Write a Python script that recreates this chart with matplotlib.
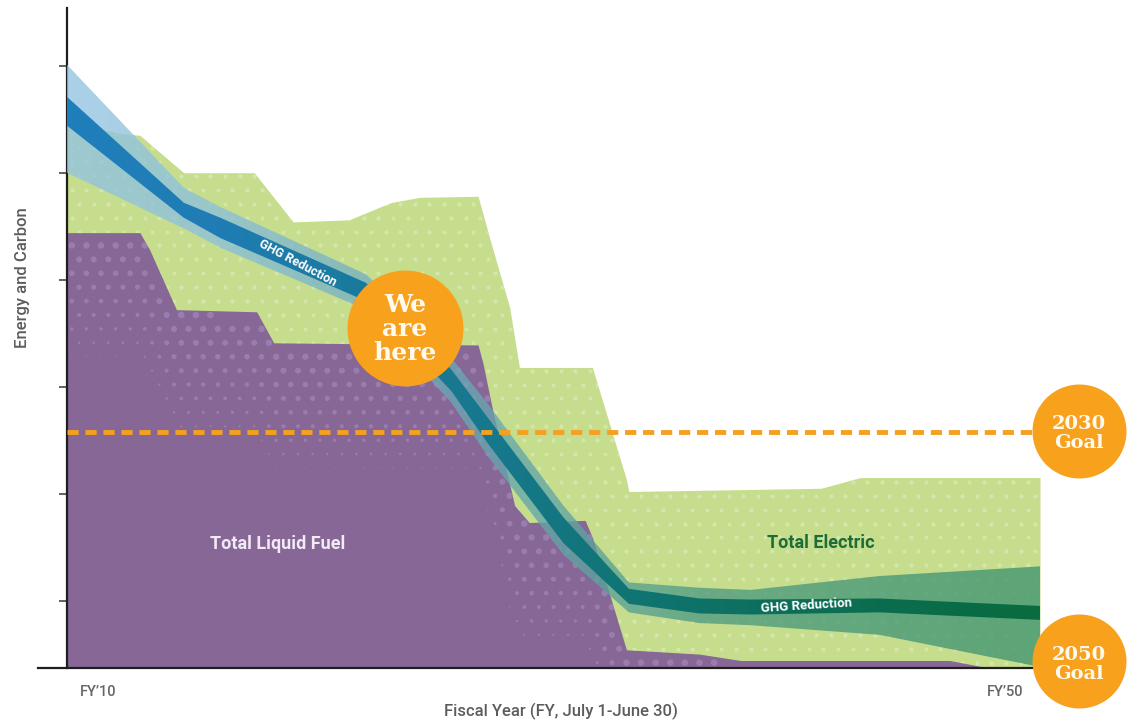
"""Energy and carbon pathway chart: liquid fuel vs electric, with GHG reduction band."""
import numpy as np
import matplotlib
matplotlib.use("Agg")
import matplotlib.pyplot as plt
from matplotlib.colors import LinearSegmentedColormap

# ── data (fiscal years, chart units) ─────────────────────────────────── #
liquid_years = [2010.0, 2013.0, 2013.4, 2014.5, 2017.8, 2018.5, 2026.9, 2027.1,
                2027.5, 2028.4, 2029.0, 2031.3, 2031.6, 2033.0, 2036.0, 2037.7,
                2046.3, 2047.9, 2050.0]
liquid_top = [40.7, 40.7, 39.1, 33.5, 33.3, 30.4, 30.2, 28.5,
              24.1, 15.2, 13.6, 13.8, 12.2, 1.7, 1.3, 0.7,
              0.7, 0.0, 0.0]

total_years = [2010.0, 2012.1, 2013.0, 2014.8, 2017.7, 2019.3, 2021.6, 2023.3,
               2024.5, 2026.9, 2027.4, 2028.2, 2028.6, 2031.6, 2033.0, 2033.1,
               2041.0, 2042.6, 2050.0]
total_top = [51.2, 50.0, 49.8, 46.3, 46.3, 41.7, 41.9, 43.5,
             44.0, 44.1, 40.0, 33.7, 28.1, 28.1, 17.6, 16.5,
             16.8, 17.8, 17.8]

ghg_years = [2010.0, 2014.8, 2016.3, 2022.3, 2025.8, 2027.3, 2030.4, 2033.1,
             2036.0, 2038.1, 2043.4, 2050.0]
ghg_outer_hi = [56.4, 44.9, 43.1, 36.8, 29.0, 24.7, 15.2, 8.0, 7.5, 7.3, 8.6, 9.5]
ghg_core_hi = [53.4, 43.5, 42.1, 36.0, 27.9, 23.4, 14.1, 7.4, 6.5, 6.4, 6.5, 5.8]
ghg_core_lo = [50.7, 42.1, 40.2, 34.3, 25.9, 21.0, 11.7, 6.0, 5.1, 5.0, 5.2, 4.5]
ghg_outer_lo = [46.3, 41.1, 39.3, 33.5, 24.8, 19.8, 10.6, 5.2, 4.2, 4.0, 3.1, 0.1]

goal_2030_level = 22.1
here_year, here_level = 2023.9, 31.8
goal_year = 2051.6
goal_levels = [22.2, 0.65]
goal_labels = ["2030\nGoal", "2050\nGoal"]

ytick_pos = [6.3, 16.3, 26.3, 36.3, 46.3, 56.3]
fy_labels = ["FY\u201910", "FY\u201950"]

PURPLE = "#866796"
GREEN = "#c5dd8c"
ORANGE = "#f7a11c"
GRAY = "#5c5c5c"
CREAM = "#fffaf0"

plt.rcParams["font.family"] = ["Roboto", "DejaVu Sans"]

fig = plt.figure(figsize=(11.31, 7.23), dpi=100)
ax = fig.add_axes([38 / 1131, 55 / 723, 1002 / 1131, 660 / 723])
XLIM = (2008.81, 2050.0)
YLIM = (0, 61.7)

# ── stacked areas ───────────────────────────────────────────────────── #
green_fill = ax.fill_between(total_years, 0, total_top, color=GREEN, lw=0, zorder=1)
purple_fill = ax.fill_between(liquid_years, 0, liquid_top, color=PURPLE, lw=0, zorder=2)

# halftone texture
gx, gy = np.meshgrid(np.arange(2010.2, 2050, 0.6), np.arange(0.5, 60, 1.3))
gx = gx + (np.arange(gx.shape[0])[:, None] % 2) * 0.3
gx, gy = gx.ravel(), gy.ravel()
gdots = ax.scatter(gx, gy, s=9, c="white", alpha=0.28, lw=0, zorder=1.5)
gdots.set_clip_path(green_fill.get_paths()[0], ax.transData)

depth = np.interp(gx, liquid_years, liquid_top) - gy
psize = np.clip(1 - depth / 12.0, 0, 1) * 24
psize[depth < 0.4] = 0
pdots = ax.scatter(gx, gy, s=psize, c="#a88bc0", alpha=0.6, lw=0, zorder=2.5)
pdots.set_clip_path(purple_fill.get_paths()[0], ax.transData)

# ── GHG reduction band (gradient along x) ───────────────────────────── #
outer_cmap = LinearSegmentedColormap.from_list("outer", [
    (0.0, "#93c4e3"), (0.15, "#8cc0dc"), (0.35, "#6eaabb"),
    (0.5, "#62a6a6"), (0.65, "#4f9c82"), (1.0, "#3f9470")])
core_cmap = LinearSegmentedColormap.from_list("core", [
    (0.0, "#1f7fbb"), (0.15, "#1f7db4"), (0.3, "#1a7a9c"),
    (0.45, "#16788a"), (0.6, "#0f7470"), (0.75, "#0c6e58"), (1.0, "#096b3e")])
grad = np.linspace(0, 1, 256)[None, :]

outer_poly = ax.fill_between(ghg_years, ghg_outer_lo, ghg_outer_hi, facecolor="none", lw=0)
im = ax.imshow(grad, cmap=outer_cmap, extent=(2010, 2050, YLIM[0], YLIM[1]),
               aspect="auto", origin="lower", interpolation="bilinear",
               alpha=0.78, zorder=3)
im.set_clip_path(outer_poly.get_paths()[0], ax.transData)

core_poly = ax.fill_between(ghg_years, ghg_core_lo, ghg_core_hi, facecolor="none", lw=0)
im2 = ax.imshow(grad, cmap=core_cmap, extent=(2010, 2050, YLIM[0], YLIM[1]),
                aspect="auto", origin="lower", interpolation="bilinear", zorder=4)
im2.set_clip_path(core_poly.get_paths()[0], ax.transData)

ax.text(2019.5, 37.85, "GHG Reduction", rotation=-28, color="white", fontsize=9,
        fontweight="bold", ha="center", va="center", zorder=5)
ax.text(2040.4, 5.8, "GHG Reduction", rotation=3.5, color="white", fontsize=9.5,
        fontweight="bold", ha="center", va="center", zorder=5)

# ── area labels ─────────────────────────────────────────────────────── #
ax.text(2018.67, 11.6, "Total Liquid Fuel", color="#f3eaf6", fontsize=13,
        fontweight="semibold", ha="center", va="center", zorder=5)
ax.text(2041.0, 11.7, "Total Electric", color="#1d6d3a", fontsize=13,
        fontweight="semibold", ha="center", va="center", zorder=5)

# ── 2030 goal line + markers ────────────────────────────────────────── #
ax.plot([2010, 2049.7], [goal_2030_level] * 2, color="#f5a020", lw=3.5,
        linestyle=(0, (2.3, 1.4)), dash_capstyle="butt", zorder=6)

ax.scatter([here_year], [here_level], s=6970, c=ORANGE, lw=0, zorder=7, clip_on=False)
ax.text(here_year, here_level - 0.1, "We\nare\nhere", color=CREAM, fontsize=18,
        family="DejaVu Serif", fontweight="bold", linespacing=1.02,
        ha="center", va="center", zorder=8)
for lvl, lab in zip(goal_levels, goal_labels):
    ax.scatter([goal_year], [lvl], s=4580, c=ORANGE, lw=0, zorder=7, clip_on=False)
    ax.text(goal_year, lvl - 0.3, lab, color=CREAM, fontsize=14,
            family="DejaVu Serif", fontweight="bold", linespacing=1.05,
            ha="center", va="center", zorder=8, clip_on=False)

# ── axes styling ────────────────────────────────────────────────────── #
ax.set_xlim(*XLIM)
ax.set_ylim(*YLIM)
for s in ("top", "right"):
    ax.spines[s].set_visible(False)
ax.spines["left"].set_position(("data", 2010))
for s in ("left", "bottom"):
    ax.spines[s].set_linewidth(1.6)
    ax.spines[s].set_color("#1e1e1e")
ax.set_yticks(ytick_pos)
ax.set_yticklabels([])
ax.tick_params(axis="y", direction="out", length=6, width=1.3, color="#555555")
ax.set_xticks([])

ax.annotate(fy_labels[0], xy=(2010, 0), xytext=(9.5, -17), textcoords="offset points",
            ha="left", va="center", fontsize=10.5, color="#666666", fontweight="medium")
ax.annotate(fy_labels[1], xy=(2050, 0), xytext=(-12, -17), textcoords="offset points",
            ha="right", va="center", fontsize=10.5, color="#666666", fontweight="medium")

fig.text(22 / 1131, 1 - 278 / 723, "Energy and Carbon", rotation=90, ha="center",
         va="center", fontsize=12, color=GRAY, fontweight="medium")
fig.text(561 / 1131, 1 - 711 / 723, "Fiscal Year (FY, July 1-June 30)", ha="center",
         va="center", fontsize=12, color=GRAY, fontweight="medium")

fig.savefig("out.png", dpi=100)
